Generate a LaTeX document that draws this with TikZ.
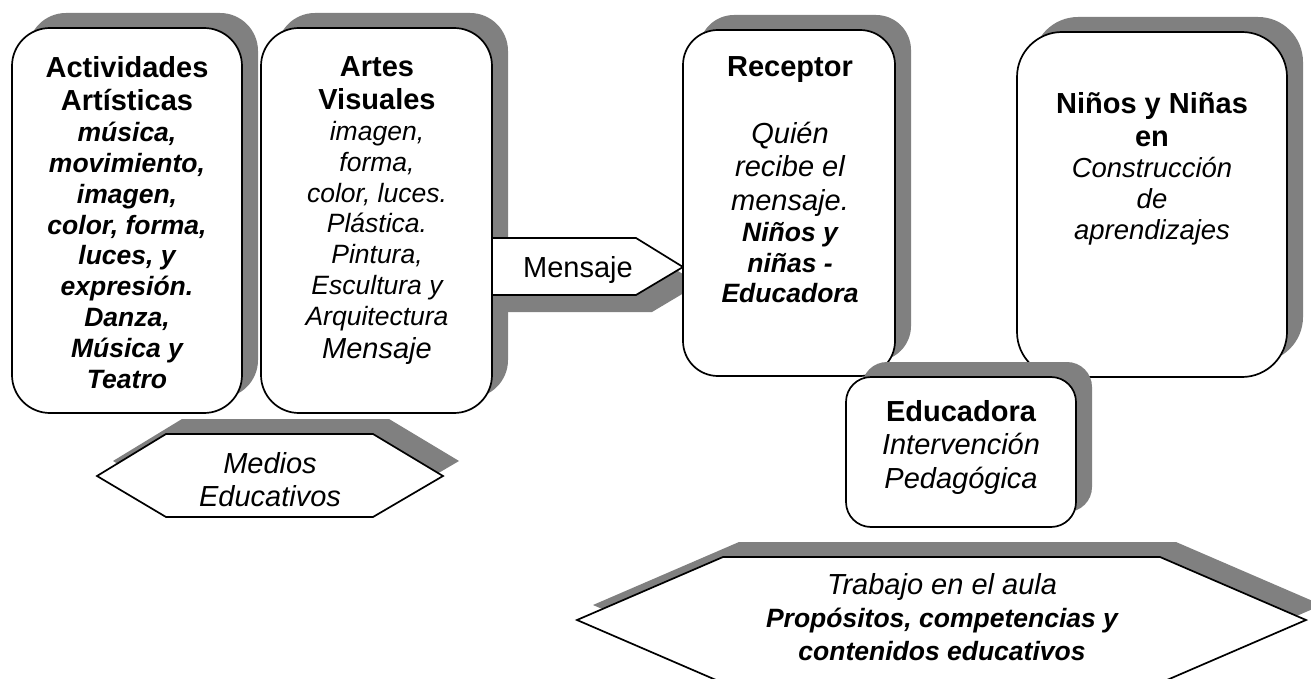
\documentclass[tikz,border=0pt]{standalone}
\usepackage{fontspec}
\setmainfont{Liberation Sans}
\usetikzlibrary{shadows}

\definecolor{shadowgray}{RGB}{128,128,128}
\newcommand{\gapfix}{\spaceskip=\fontdimen2\font\relax\xspaceskip=\fontdimen2\font\relax}
\newcommand{\hdtext}{\normalfont\fontsize{29}{33.6}\selectfont\bfseries\gapfix}
\newcommand{\ittext}{\normalfont\fontsize{29}{33.6}\selectfont\itshape\gapfix}
\newcommand{\rmtext}{\normalfont\fontsize{29}{33.6}\selectfont\gapfix}
\newcommand{\bitext}{\normalfont\fontsize{26.5}{30.8}\selectfont\bfseries\itshape\gapfix}
\newcommand{\smtext}{\normalfont\fontsize{26.5}{30.8}\selectfont\itshape\gapfix}

\tikzset{
  shadowed/.style 2 args={drop shadow={shadow xshift=#1, shadow yshift=#2, fill=shadowgray, opacity=1}},
  card/.style={draw, fill=white, line width=1.7pt, rounded corners=#1, inner sep=0pt, shadowed={16pt}{15pt}},
  flat/.style={draw, fill=white, line width=1.7pt, shadowed={16pt}{15pt}},
  tag/.style={draw, fill=white, line width=1.7pt, shadowed={16pt}{-17pt}},
  cardtext/.style={anchor=north, align=center, text width=#1, inner sep=0pt}
}

\begin{document}
\begin{tikzpicture}[x=1pt, y=-1pt]
  \useasboundingbox (0,0) rectangle (1311,679);
  \fill[white] (0,0) rectangle (1311,679);
  \clip (0,0) rectangle (1311,679);

  % left cards
  \node[card=38pt, minimum width=230pt, minimum height=385pt] (act) at (127,220.5) {};
  \node[cardtext=226pt] (acttext) at (127,56) {\hdtext Actividades\\Artísticas\par
    \bitext música,\\movimiento,\\imagen,\\color, forma,\\luces, y\\expresión.\\Danza,\\Música y\\Teatro\par};

  \node[card=38pt, minimum width=231pt, minimum height=385pt] (artes) at (376.5,220.5) {};
  \node[cardtext=227pt] (artestext) at (377,56) {\hdtext Artes\\Visuales\par
    \smtext imagen,\\forma,\\color, luces.\\Plástica.\\Pintura,\\Escultura y\\Arquitectura\par
    \ittext Mensaje\par};

  % message arrow
  \draw[tag] (492,238) -- (636,238) -- (683,267) -- (636,295) -- (492,295) -- cycle;
  \node[anchor=base, inner sep=0pt] (mensaje) at (578,277) {\rmtext Mensaje};

  % receptor and children
  \node[card=35pt, minimum width=212pt, minimum height=346pt] (recep) at (789,203) {};
  \node[cardtext=208pt] (receptext) at (790,56) {\hdtext Receptor\par
    \ittext\mbox{}\\Quién\\recibe el\\mensaje.\par
    \bitext Niños y\\niñas -\\Educadora\par};

  \node[card=45pt, minimum width=270pt, minimum height=345pt] (ninos) at (1152,204.5) {};
  \node[cardtext=266pt] (ninostext) at (1152,92) {\hdtext Niños y Niñas\\en\par
    \normalfont\fontsize{27.5}{31}\selectfont\itshape\gapfix Construcción\\de\\aprendizajes\par};

  \node[card=25pt, minimum width=230pt, minimum height=150pt] (educ) at (961,452) {};
  \node[cardtext=226pt] (eductext) at (961,400) {\hdtext Educadora\par
    \ittext Intervención\\Pedagógica\par};

  % hexagons
  \draw[flat] (97,476) -- (166,434) -- (373,434) -- (443,476) -- (373,517) -- (166,517) -- cycle;
  \node[cardtext=300pt] (medios) at (270,452) {\ittext Medios\\Educativos\par};

  \draw[flat] (577,620) -- (723,557) -- (1160,557) -- (1306,620) -- (1160,683) -- (723,683) -- cycle;
  \node[cardtext=600pt] (trabajo) at (942,573) {\ittext Trabajo en el aula\par
    \normalfont\fontsize{26.5}{33}\selectfont\bfseries\itshape\gapfix Propósitos, competencias y\\contenidos educativos\par};
\end{tikzpicture}
\end{document}
